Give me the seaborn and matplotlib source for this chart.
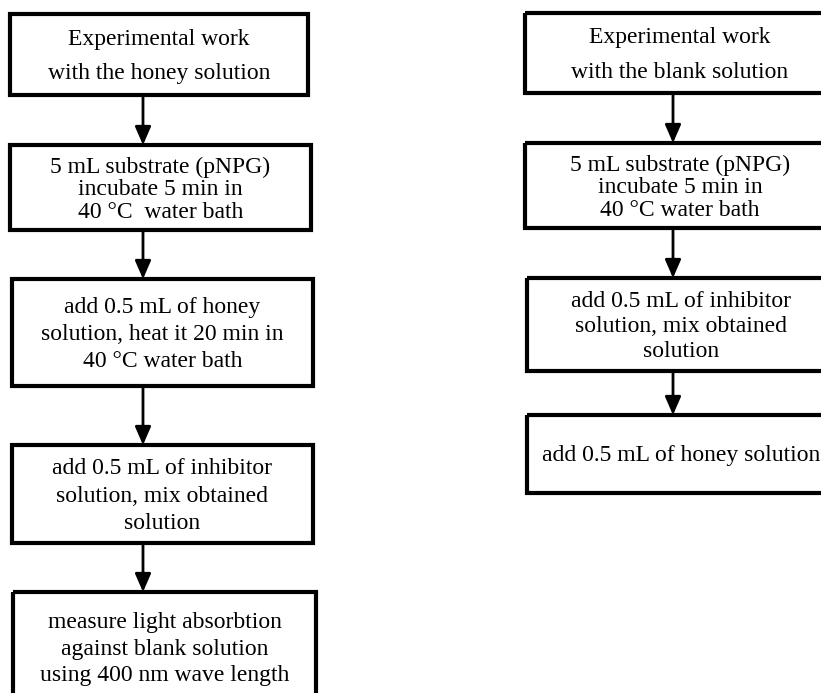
import matplotlib
matplotlib.use("Agg")
import matplotlib.pyplot as plt
from matplotlib.patches import Rectangle
import seaborn as sns

# Texto de cada caixa (coluna esquerda = mel, coluna direita = branco)
honey_steps = [
    ["Experimental work", "with the honey solution"],
    ["5 mL substrate (pNPG)", "incubate 5 min in", "40 °C  water bath"],
    ["add 0.5 mL of honey", "solution, heat it 20 min in", "40 °C water bath"],
    ["add 0.5 mL of inhibitor", "solution, mix obtained", "solution"],
    ["measure light absorbtion", "against blank solution", "using 400 nm wave length"],
]
blank_steps = [
    ["Experimental work", "with the blank solution"],
    ["5 mL substrate (pNPG)", "incubate 5 min in", "40 °C water bath"],
    ["add 0.5 mL of inhibitor", "solution, mix obtained", "solution"],
    ["add 0.5 mL of honey solution"],
]

# Layout em pixels (x0, y0, x1, y1), espaçamento entre linhas, posição da seta
honey_boxes = [(10, 14, 308, 95), (10, 145, 311, 230), (12, 279, 313, 386),
               (12, 445, 313, 543), (13, 592, 316, 702)]
honey_spacing = [34, 22.5, 27, 27.5, 26.5]
honey_arrow_x = 143

blank_boxes = [(525, 13, 835, 93), (525, 143, 835, 228), (527, 278, 835, 371),
               (527, 415, 835, 493)]
blank_spacing = [34, 22.5, 25, 0]
blank_arrow_x = 673

W, H = 821, 693

sns.set_theme(style="white")
plt.rcParams['font.family'] = ['Liberation Serif', 'DejaVu Serif']

fig = plt.figure(figsize=(W / 100, H / 100), dpi=100)
ax = fig.add_axes([0, 0, 1, 1])
ax.set_xlim(0, W)
ax.set_ylim(H, 0)
ax.axis('off')


def desenhar_coluna(steps, boxes, spacing, arrow_x):
    for lines, (x0, y0, x1, y1), sp in zip(steps, boxes, spacing):
        ax.add_patch(Rectangle((x0, y0), x1 - x0, y1 - y0, fill=False,
                               edgecolor='black', linewidth=3, joinstyle='miter'))
        cx = (x0 + x1) / 2
        cy = (y0 + y1) / 2 + 2
        n = len(lines)
        for i, txt in enumerate(lines):
            ty = cy + (i - (n - 1) / 2) * sp
            ax.text(cx, ty, txt, ha='center', va='center', fontsize=17, color='black')

    # Setas entre caixas consecutivas
    for (_, _, _, y_fim), (_, y_ini, _, _) in zip(boxes[:-1], boxes[1:]):
        ax.annotate('', xy=(arrow_x, y_ini), xytext=(arrow_x, y_fim),
                    arrowprops=dict(arrowstyle='-|>,head_length=0.55,head_width=0.24',
                                    mutation_scale=20, color='black', lw=2,
                                    shrinkA=0, shrinkB=0))


desenhar_coluna(honey_steps, honey_boxes, honey_spacing, honey_arrow_x)
desenhar_coluna(blank_steps, blank_boxes, blank_spacing, blank_arrow_x)

fig.savefig('out.png', dpi=100, facecolor='white')
plt.close(fig)
